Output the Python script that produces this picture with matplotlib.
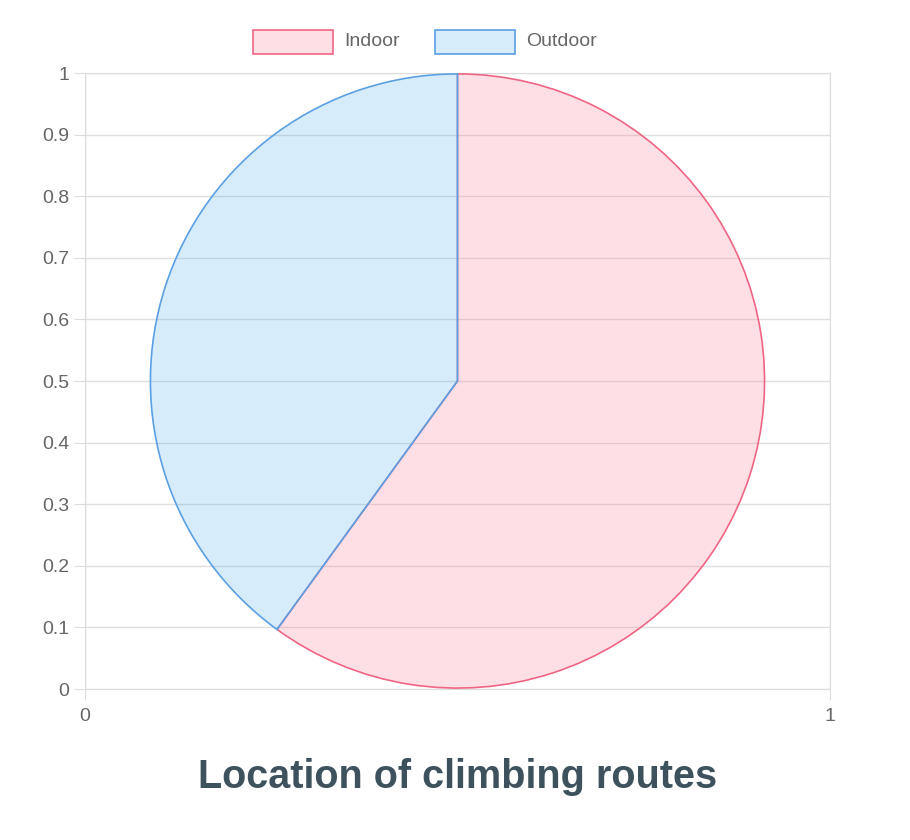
import matplotlib
matplotlib.use("Agg")
import matplotlib.pyplot as plt
from matplotlib.patches import Rectangle

labels = ["Indoor", "Outdoor"]
values = [60, 40]
fills = [(1.0, 0.39, 0.52, 0.2), (0.21, 0.64, 0.92, 0.2)]
edges = ["#f06584", "#5ba0e3"]
yticks = [0, 0.1, 0.2, 0.3, 0.4, 0.5, 0.6, 0.7, 0.8, 0.9, 1]
ytick_labels = ["0", "0.1", "0.2", "0.3", "0.4", "0.5", "0.6", "0.7", "0.8", "0.9", "1"]
xticks = [0, 1]

plt.rcParams['font.family'] = ['Liberation Sans', 'DejaVu Sans']
W, H = 910, 840
fig = plt.figure(figsize=(W/100, H/100), dpi=100)
l, r, t, b = 85, 830, 73, 689
pos = [l/W, 1-b/H, (r-l)/W, (b-t)/H]
ax = fig.add_axes(pos)
ax.set_xlim(0, 1); ax.set_ylim(0, 1)
ax.set_yticks(yticks); ax.set_yticklabels(ytick_labels)
ax.set_xticks(xticks); ax.set_xticklabels(["0", "1"])
ax.grid(True, color="#e0e0e0", lw=1)
ax.set_axisbelow(True)
for s in ax.spines.values():
    s.set_color("#dcdcdc")
ax.tick_params(colors="#666666", labelsize=14, length=8, color="#dcdcdc")
ax.tick_params(axis='x', pad=6)

pax = fig.add_axes(pos)
pax.set_aspect("equal")
wedges, _ = pax.pie(values, startangle=90, counterclock=False, colors=fills,
                    radius=1, wedgeprops=dict(linewidth=1.2))
for w, e in zip(wedges, edges):
    w.set_edgecolor(e)
pax.set_xlim(-1.003, 1.003); pax.set_ylim(-1.003, 1.003)
pax.axis("off")

# legend
lx = [253, 435]
for x0, lab, f, e in zip(lx, labels, fills, edges):
    fig.patches.append(Rectangle((x0/W, 1-54/H), 80/W, 24/H, transform=fig.transFigure,
                                 facecolor=f, edgecolor=e, lw=1.2))
    fig.text((x0+91)/W, 1-42/H, lab, fontsize=14, color="#666666", va="center")

fig.text(458/W, 1-777/H, "Location of climbing routes", ha="center", va="center",
         fontsize=28.5, fontweight="bold", color="#3d525c")
fig.savefig("out.png", dpi=100)
